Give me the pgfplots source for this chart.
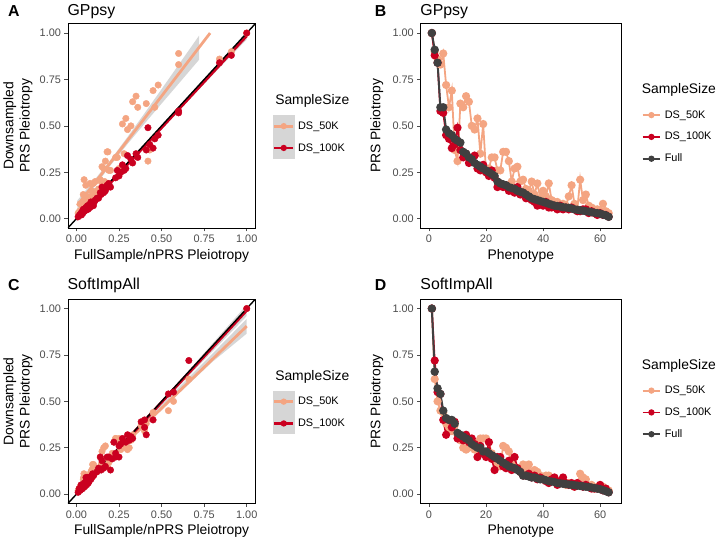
\documentclass[border=0pt]{standalone}
\usepackage{pgfplots}
\pgfplotsset{compat=1.18}
\usepackage{pgfplotstable}
\usepgfplotslibrary{fillbetween}
\usepackage{fontspec}
\setmainfont{Liberation Sans}
\definecolor{c50}{HTML}{F4A582}
\definecolor{c100}{HTML}{CA0020}
\definecolor{cfull}{HTML}{404040}
\definecolor{tickc}{HTML}{4D4D4D}
\definecolor{grey60}{HTML}{999999}
\definecolor{keyc}{HTML}{D6D6D6}

% idx = phenotype rank, full = full sample pleiotropy, ds50 / ds100 = downsampled
\pgfplotstableread{
idx full ds50 ds100
1 1.00 1.00 1.00
2 0.91 0.90 0.88
3 0.84 0.86 0.84
4 0.60 0.83 0.58
5 0.60 0.89 0.57
6 0.48 0.72 0.45
7 0.46 0.60 0.43
8 0.45 0.69 0.38
9 0.43 0.37 0.40
10 0.42 0.31 0.49
11 0.41 0.62 0.37
12 0.36 0.60 0.33
13 0.35 0.66 0.35
14 0.33 0.63 0.30
15 0.32 0.50 0.32
16 0.30 0.48 0.34
17 0.29 0.54 0.27
18 0.28 0.35 0.26
19 0.27 0.51 0.29
20 0.26 0.25 0.25
21 0.25 0.27 0.23
22 0.24 0.33 0.26
23 0.23 0.33 0.22
24 0.20 0.26 0.17
25 0.19 0.26 0.19
26 0.185 0.36 0.17
27 0.18 0.36 0.18
28 0.17 0.31 0.15
29 0.165 0.20 0.15
30 0.16 0.27 0.14
31 0.15 0.28 0.17
32 0.145 0.20 0.13
33 0.14 0.21 0.14
34 0.13 0.16 0.11
35 0.12 0.15 0.11
36 0.11 0.20 0.10
37 0.105 0.13 0.09
38 0.10 0.19 0.07
39 0.095 0.11 0.08
40 0.09 0.15 0.07
41 0.085 0.12 0.09
42 0.08 0.19 0.06
43 0.075 0.10 0.06
44 0.07 0.09 0.07
45 0.068 0.09 0.05
46 0.065 0.06 0.07
47 0.062 0.08 0.05
48 0.06 0.07 0.06
49 0.058 0.12 0.05
50 0.055 0.18 0.06
51 0.05 0.08 0.05
52 0.048 0.05 0.04
53 0.045 0.21 0.04
54 0.043 0.10 0.05
55 0.04 0.13 0.05
56 0.038 0.07 0.03
57 0.035 0.06 0.04
58 0.032 0.05 0.03
59 0.03 0.05 0.02
60 0.027 0.04 0.03
61 0.022 0.08 0.02
62 0.018 0.04 0.02
63 0.01 0.03 0.01
}\gp

\pgfplotstableread{
idx full ds50 ds100
1 1.00 1.00 1.00
2 0.66 0.62 0.72
3 0.57 0.50 0.55
4 0.54 0.45 0.54
5 0.45 0.44 0.40
6 0.41 0.38 0.32
7 0.40 0.36 0.40
8 0.40 0.34 0.36
9 0.38 0.37 0.39
10 0.33 0.32 0.30
11 0.32 0.29 0.31
12 0.31 0.25 0.29
13 0.30 0.24 0.32
14 0.29 0.25 0.28
15 0.27 0.26 0.30
16 0.26 0.24 0.27
17 0.25 0.28 0.20
18 0.25 0.30 0.26
19 0.23 0.30 0.22
20 0.23 0.30 0.20
21 0.22 0.28 0.28
22 0.21 0.22 0.19
23 0.20 0.20 0.13
24 0.19 0.17 0.20
25 0.18 0.15 0.20
26 0.17 0.26 0.15
27 0.16 0.25 0.14
28 0.15 0.23 0.18
29 0.145 0.16 0.13
30 0.14 0.20 0.20
31 0.13 0.14 0.14
32 0.12 0.12 0.12
33 0.10 0.16 0.10
34 0.10 0.14 0.10
35 0.095 0.16 0.11
36 0.09 0.10 0.09
37 0.09 0.13 0.10
38 0.085 0.12 0.08
39 0.08 0.10 0.09
40 0.08 0.08 0.08
41 0.075 0.10 0.07
42 0.07 0.10 0.06
43 0.068 0.08 0.08
44 0.065 0.07 0.09
45 0.06 0.06 0.05
46 0.058 0.07 0.07
47 0.056 0.06 0.09
48 0.054 0.05 0.06
49 0.052 0.06 0.05
50 0.05 0.05 0.06
51 0.048 0.04 0.04
52 0.046 0.05 0.06
53 0.044 0.11 0.05
54 0.042 0.09 0.04
55 0.04 0.08 0.05
56 0.038 0.04 0.04
57 0.036 0.05 0.03
58 0.033 0.03 0.03
59 0.03 0.04 0.03
60 0.027 0.03 0.05
61 0.022 0.04 0.02
62 0.016 0.03 0.03
63 0.01 0.02 0.01
}\si

\pgfplotsset{
  panel/.style={
    scale only axis, anchor=south west,
    axis line style={black, line width=0.8pt},
    tick align=outside, xtick pos=bottom, ytick pos=left,
    major tick length=3.5pt,
    every tick/.style={tickc, line width=0.6pt},
    tick label style={font=\fontsize{11}{13}\selectfont, text=tickc},
    label style={font=\fontsize{14}{16.5}\selectfont},
    ymin=-0.05, ymax=1.05,
    ytick={0,0.25,0.5,0.75,1}, yticklabels={0.00,0.25,0.50,0.75,1.00},
    legend cell align=left,
  },
  scat/.style={
    xmin=-0.05, xmax=1.05,
    xtick={0,0.25,0.5,0.75,1}, xticklabels={0.00,0.25,0.50,0.75,1.00},
    xlabel={FullSample/nPRS Pleiotropy},
    ylabel={Downsampled\\PRS Pleiotropy},
    ylabel style={align=center, at={(axis description cs:-0.17,0.5)}, anchor=south},
    legend style={at={(axis description cs:1.093,0.553)}, anchor=north west,
      draw=none, fill=none, inner sep=0pt, row sep=0pt,
      nodes={inner ysep=0pt, inner xsep=3.5pt},
      font=\fontsize{11}{13}\selectfont},
  },
  lineplot/.style={
    xmin=-2.9, xmax=67.3,
    xtick={0,20,40,60}, xticklabels={0,20,40,60},
    xlabel={Phenotype}, ylabel={PRS Pleiotropy},
    ylabel style={at={(axis description cs:-0.17,0.5)}, anchor=south},
    legend style={at={(axis description cs:1.092,0.607)}, anchor=north west,
      draw=none, fill=none, inner sep=0pt, row sep=0pt,
      nodes={inner ysep=0pt, inner xsep=3.5pt},
      font=\fontsize{11}{13}\selectfont},
  },
  keyA/.style={legend image code/.code={%
      \path[fill=keyc, draw=none] (0pt,-11pt) rectangle (22pt,11pt);
      \path[draw=#1, line width=2.8pt] (1.5pt,0pt)--(20.5pt,0pt);
      \path[fill=#1, draw=none] (11pt,0pt) circle (3.2pt);}},
  keyB/.style={legend image code/.code={%
      \path[draw=none, fill=none] (0pt,-11pt) rectangle (22pt,11pt);
      \path[draw=#1, line width=1.8pt] (3pt,0pt)--(21pt,0pt);
      \path[fill=#1, draw=none] (12pt,0pt) circle (3.2pt);}},
}

\begin{document}
\begin{tikzpicture}
\path (0pt,0pt) rectangle (722pt,543pt);

% ---------------- A ----------------
\begin{axis}[panel, scat, at={(62pt,313pt)}, width=189pt, height=206pt]
\addplot[only marks, mark=*, mark size=3.3pt, c50, forget plot] table[x=full,y=ds50]{\gp};
\addplot[only marks, mark=*, mark size=3.3pt, c100, forget plot] table[x=full,y=ds100]{\gp};
\addplot[name path=au, draw=none, forget plot] coordinates {(0.005,0.098)(0.1,0.202)(0.2,0.317)(0.3,0.440)(0.4,0.568)(0.5,0.698)(0.6,0.829)(0.72,0.986)};
\addplot[name path=al, draw=none, forget plot] coordinates {(0.005,0.042)(0.1,0.164)(0.2,0.287)(0.3,0.402)(0.4,0.512)(0.5,0.620)(0.6,0.727)(0.72,0.856)};
\addplot[grey60, fill opacity=0.4, forget plot] fill between[of=au and al];
\addplot[c50, line width=2.8pt, forget plot] coordinates {(0.005,0.070)(0.785,1.0)};
\addplot[name path=bu, draw=none, forget plot] coordinates {(0,0.005)(0.2,0.204)(0.5,0.502)(1.0,1.005)};
\addplot[name path=bl, draw=none, forget plot] coordinates {(0,-0.015)(0.2,0.192)(0.5,0.488)(1.0,0.965)};
\addplot[grey60, fill opacity=0.4, forget plot] fill between[of=bu and bl];
\addplot[c100, line width=2.8pt, forget plot] coordinates {(0,-0.005)(1.0,0.985)};
\addplot[black, line width=1.4pt, forget plot] coordinates {(-0.05,-0.05)(1.05,1.05)};
\addlegendimage{keyA=c50}
\addlegendentry{DS\_50K}
\addlegendimage{keyA=c100}
\addlegendentry{DS\_100K}
\end{axis}

% ---------------- B ----------------
\begin{axis}[panel, lineplot, at={(418pt,313pt)}, width=202pt, height=206pt]
\addplot[c50, line width=1.8pt, mark=*, mark size=3.2pt, forget plot] table[x=idx,y=ds50]{\gp};
\addplot[c100, line width=1.8pt, mark=*, mark size=3.2pt, forget plot] table[x=idx,y=ds100]{\gp};
\addplot[cfull, line width=2pt, mark=*, mark size=3.2pt, forget plot] table[x=idx,y=full]{\gp};
\addlegendimage{keyB=c50}
\addlegendentry{DS\_50K}
\addlegendimage{keyB=c100}
\addlegendentry{DS\_100K}
\addlegendimage{keyB=cfull}
\addlegendentry{Full}
\end{axis}

% ---------------- C ----------------
\begin{axis}[panel, scat, at={(62pt,35pt)}, width=189pt, height=206pt]
\addplot[only marks, mark=*, mark size=3.3pt, c50, forget plot] table[x=full,y=ds50]{\si};
\addplot[only marks, mark=*, mark size=3.3pt, c100, forget plot] table[x=full,y=ds100]{\si};
\addplot[name path=cu, draw=none, forget plot] coordinates {(0,0.035)(0.2,0.207)(0.4,0.392)(0.6,0.575)(0.8,0.758)(1.0,0.945)};
\addplot[name path=cl, draw=none, forget plot] coordinates {(0,0.005)(0.2,0.187)(0.4,0.366)(0.6,0.541)(0.8,0.714)(1.0,0.865)};
\addplot[grey60, fill opacity=0.4, forget plot] fill between[of=cu and cl];
\addplot[c50, line width=2.8pt, forget plot] coordinates {(0,0.02)(1.0,0.905)};
\addplot[name path=du, draw=none, forget plot] coordinates {(0,0.01)(0.2,0.205)(0.5,0.502)(1.0,1.02)};
\addplot[name path=dl, draw=none, forget plot] coordinates {(0,-0.01)(0.2,0.19)(0.5,0.486)(1.0,0.96)};
\addplot[grey60, fill opacity=0.4, forget plot] fill between[of=du and dl];
\addplot[c100, line width=2.8pt, forget plot] coordinates {(0,0.0)(1.0,0.99)};
\addplot[black, line width=1.4pt, forget plot] coordinates {(-0.05,-0.05)(1.05,1.05)};
\addlegendimage{keyA=c50}
\addlegendentry{DS\_50K}
\addlegendimage{keyA=c100}
\addlegendentry{DS\_100K}
\end{axis}

% ---------------- D ----------------
\begin{axis}[panel, lineplot, at={(418pt,35pt)}, width=202pt, height=206pt]
\addplot[c50, line width=1.8pt, mark=*, mark size=3.2pt, forget plot] table[x=idx,y=ds50]{\si};
\addplot[c100, line width=1.8pt, mark=*, mark size=3.2pt, forget plot] table[x=idx,y=ds100]{\si};
\addplot[cfull, line width=2pt, mark=*, mark size=3.2pt, forget plot] table[x=idx,y=full]{\si};
\addlegendimage{keyB=c50}
\addlegendentry{DS\_50K}
\addlegendimage{keyB=c100}
\addlegendentry{DS\_100K}
\addlegendimage{keyB=cfull}
\addlegendentry{Full}
\end{axis}

% ---------------- labels ----------------
\tikzset{lab/.style={anchor=west, inner sep=0pt, font=\bfseries\fontsize{16}{18}\selectfont},
         ttl/.style={anchor=west, inner sep=0pt, font=\fontsize{16}{18}\selectfont},
         lgt/.style={anchor=west, inner sep=0pt, font=\fontsize{14}{16}\selectfont}}
\node[lab] at (1.5pt,531.5pt) {A};
\node[ttl] at (61.5pt,531pt) {GPpsy};
\node[lab] at (371.5pt,531.5pt) {B};
\node[ttl] at (417.5pt,531pt) {GPpsy};
\node[lab] at (1.5pt,255pt) {C};
\node[ttl] at (61.5pt,255pt) {SoftImpAll};
\node[lab] at (371.5pt,255pt) {D};
\node[ttl] at (417.5pt,255pt) {SoftImpAll};
\node[lgt] at (271pt,441pt) {SampleSize};
\node[lgt] at (641pt,452pt) {SampleSize};
\node[lgt] at (271pt,163pt) {SampleSize};
\node[lgt] at (641pt,174pt) {SampleSize};
\end{tikzpicture}
\end{document}
